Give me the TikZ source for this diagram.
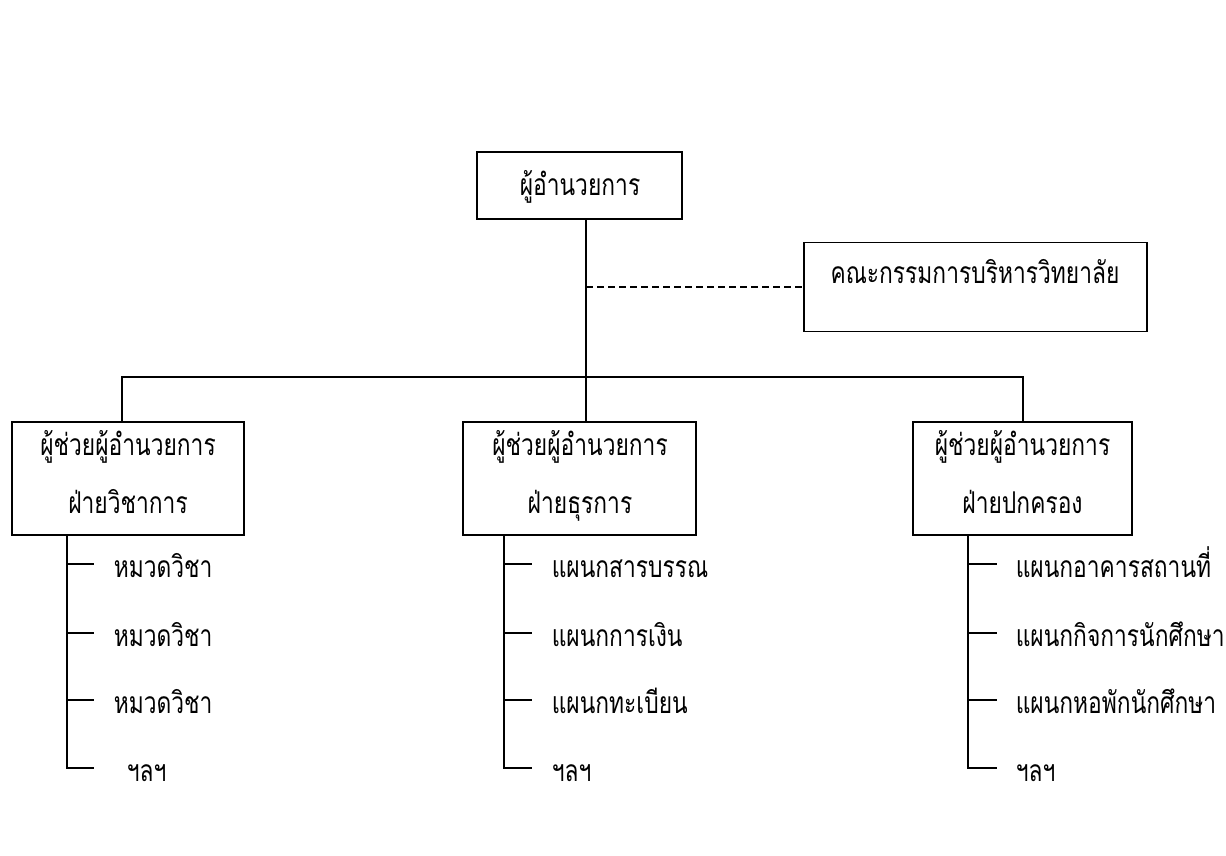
\documentclass[tikz,border=0pt]{standalone}
\usepackage{fontspec}
\newfontfamily\thai[Script=Thai,FakeStretch=0.76]{Loma}
\begin{document}
\begin{tikzpicture}[x=1pt,y=-1pt,
  line width=1.5pt,
  box/.style={draw, inner sep=0pt, line width=1.5pt},
  txt/.style={font=\thai\fontsize{30}{33}\selectfont, inner sep=0pt, anchor=base},
  item/.style={font=\thai\fontsize{30}{33}\selectfont, inner sep=0pt, anchor=base west}]
\useasboundingbox (0,0) rectangle (1226,855);
\fill[white] (0,0) rectangle (1226,855);
% boxes
\node[box, minimum width=205pt, minimum height=67pt] (dir) at (579.5,185.5) {};
\node[box, minimum width=343pt, minimum height=89pt] (comm) at (975.5,287) {};
\node[box, minimum width=232pt, minimum height=113pt] (aL) at (128,478.5) {};
\node[box, minimum width=233pt, minimum height=113pt] (aM) at (579.5,478.5) {};
\node[box, minimum width=219pt, minimum height=113pt] (aR) at (1022.5,478.5) {};
% box texts
\node[txt] (tdir) at (580,195) {ผู้อำนวยการ};
\node[txt] (tcomm) at (975,283) {คณะกรรมการบริหารวิทยาลัย};
\node[txt] (tL1) at (128,455) {ผู้ช่วยผู้อำนวยการ};
\node[txt] (tL2) at (128,513) {ฝ่ายวิชาการ};
\node[txt] (tM1) at (580,455) {ผู้ช่วยผู้อำนวยการ};
\node[txt] (tM2) at (580,513) {ฝ่ายธุรการ};
\node[txt] (tR1) at (1022.5,455) {ผู้ช่วยผู้อำนวยการ};
\node[txt] (tR2) at (1022.5,513) {ฝ่ายปกครอง};
% connectors
\coordinate (dv) at (586,0);
\coordinate (busL) at (122,377);
\coordinate (busR) at (1023,377);
\coordinate (dash0) at (586,287);
\draw (dir.south -| dv) -- (aM.north -| dv);
\draw (aL.north -| busL) -- (busL) -- (busR) -- (aR.north -| busR);
\draw[dashed, dash pattern=on 6.5pt off 4.5pt] (dash0) -- (comm.west);
% left branch
\coordinate (vL) at (67,768);
\draw (aL.south -| vL) -- (vL) -- ++(27,0);
\draw (67,564) -- ++(27,0);
\draw (67,633) -- ++(27,0);
\draw (67,700) -- ++(27,0);
\node[item] (L1) at (113,577) {หมวดวิชา};
\node[item] (L2) at (113,646) {หมวดวิชา};
\node[item] (L3) at (113,713) {หมวดวิชา};
\node[item] (L4) at (126,781) {ฯลฯ};
% middle branch
\coordinate (vM) at (504,768);
\draw (aM.south -| vM) -- (vM) -- ++(28,0);
\draw (504,564) -- ++(28,0);
\draw (504,633) -- ++(28,0);
\draw (504,700) -- ++(28,0);
\node[item] (M1) at (551,577) {แผนกสารบรรณ};
\node[item] (M2) at (551,646) {แผนกการเงิน};
\node[item] (M3) at (551,713) {แผนกทะเบียน};
\node[item] (M4) at (551,781) {ฯลฯ};
% right branch
\coordinate (vR) at (968,768);
\draw (aR.south -| vR) -- (vR) -- ++(29,0);
\draw (968,564) -- ++(29,0);
\draw (968,633) -- ++(29,0);
\draw (968,700) -- ++(29,0);
\node[item] (R1) at (1015,577) {แผนกอาคารสถานที่};
\node[item] (R2) at (1015,646) {แผนกกิจการนักศึกษา};
\node[item] (R3) at (1015,713) {แผนกหอพักนักศึกษา};
\node[item] (R4) at (1015,781) {ฯลฯ};
\end{tikzpicture}
\end{document}
